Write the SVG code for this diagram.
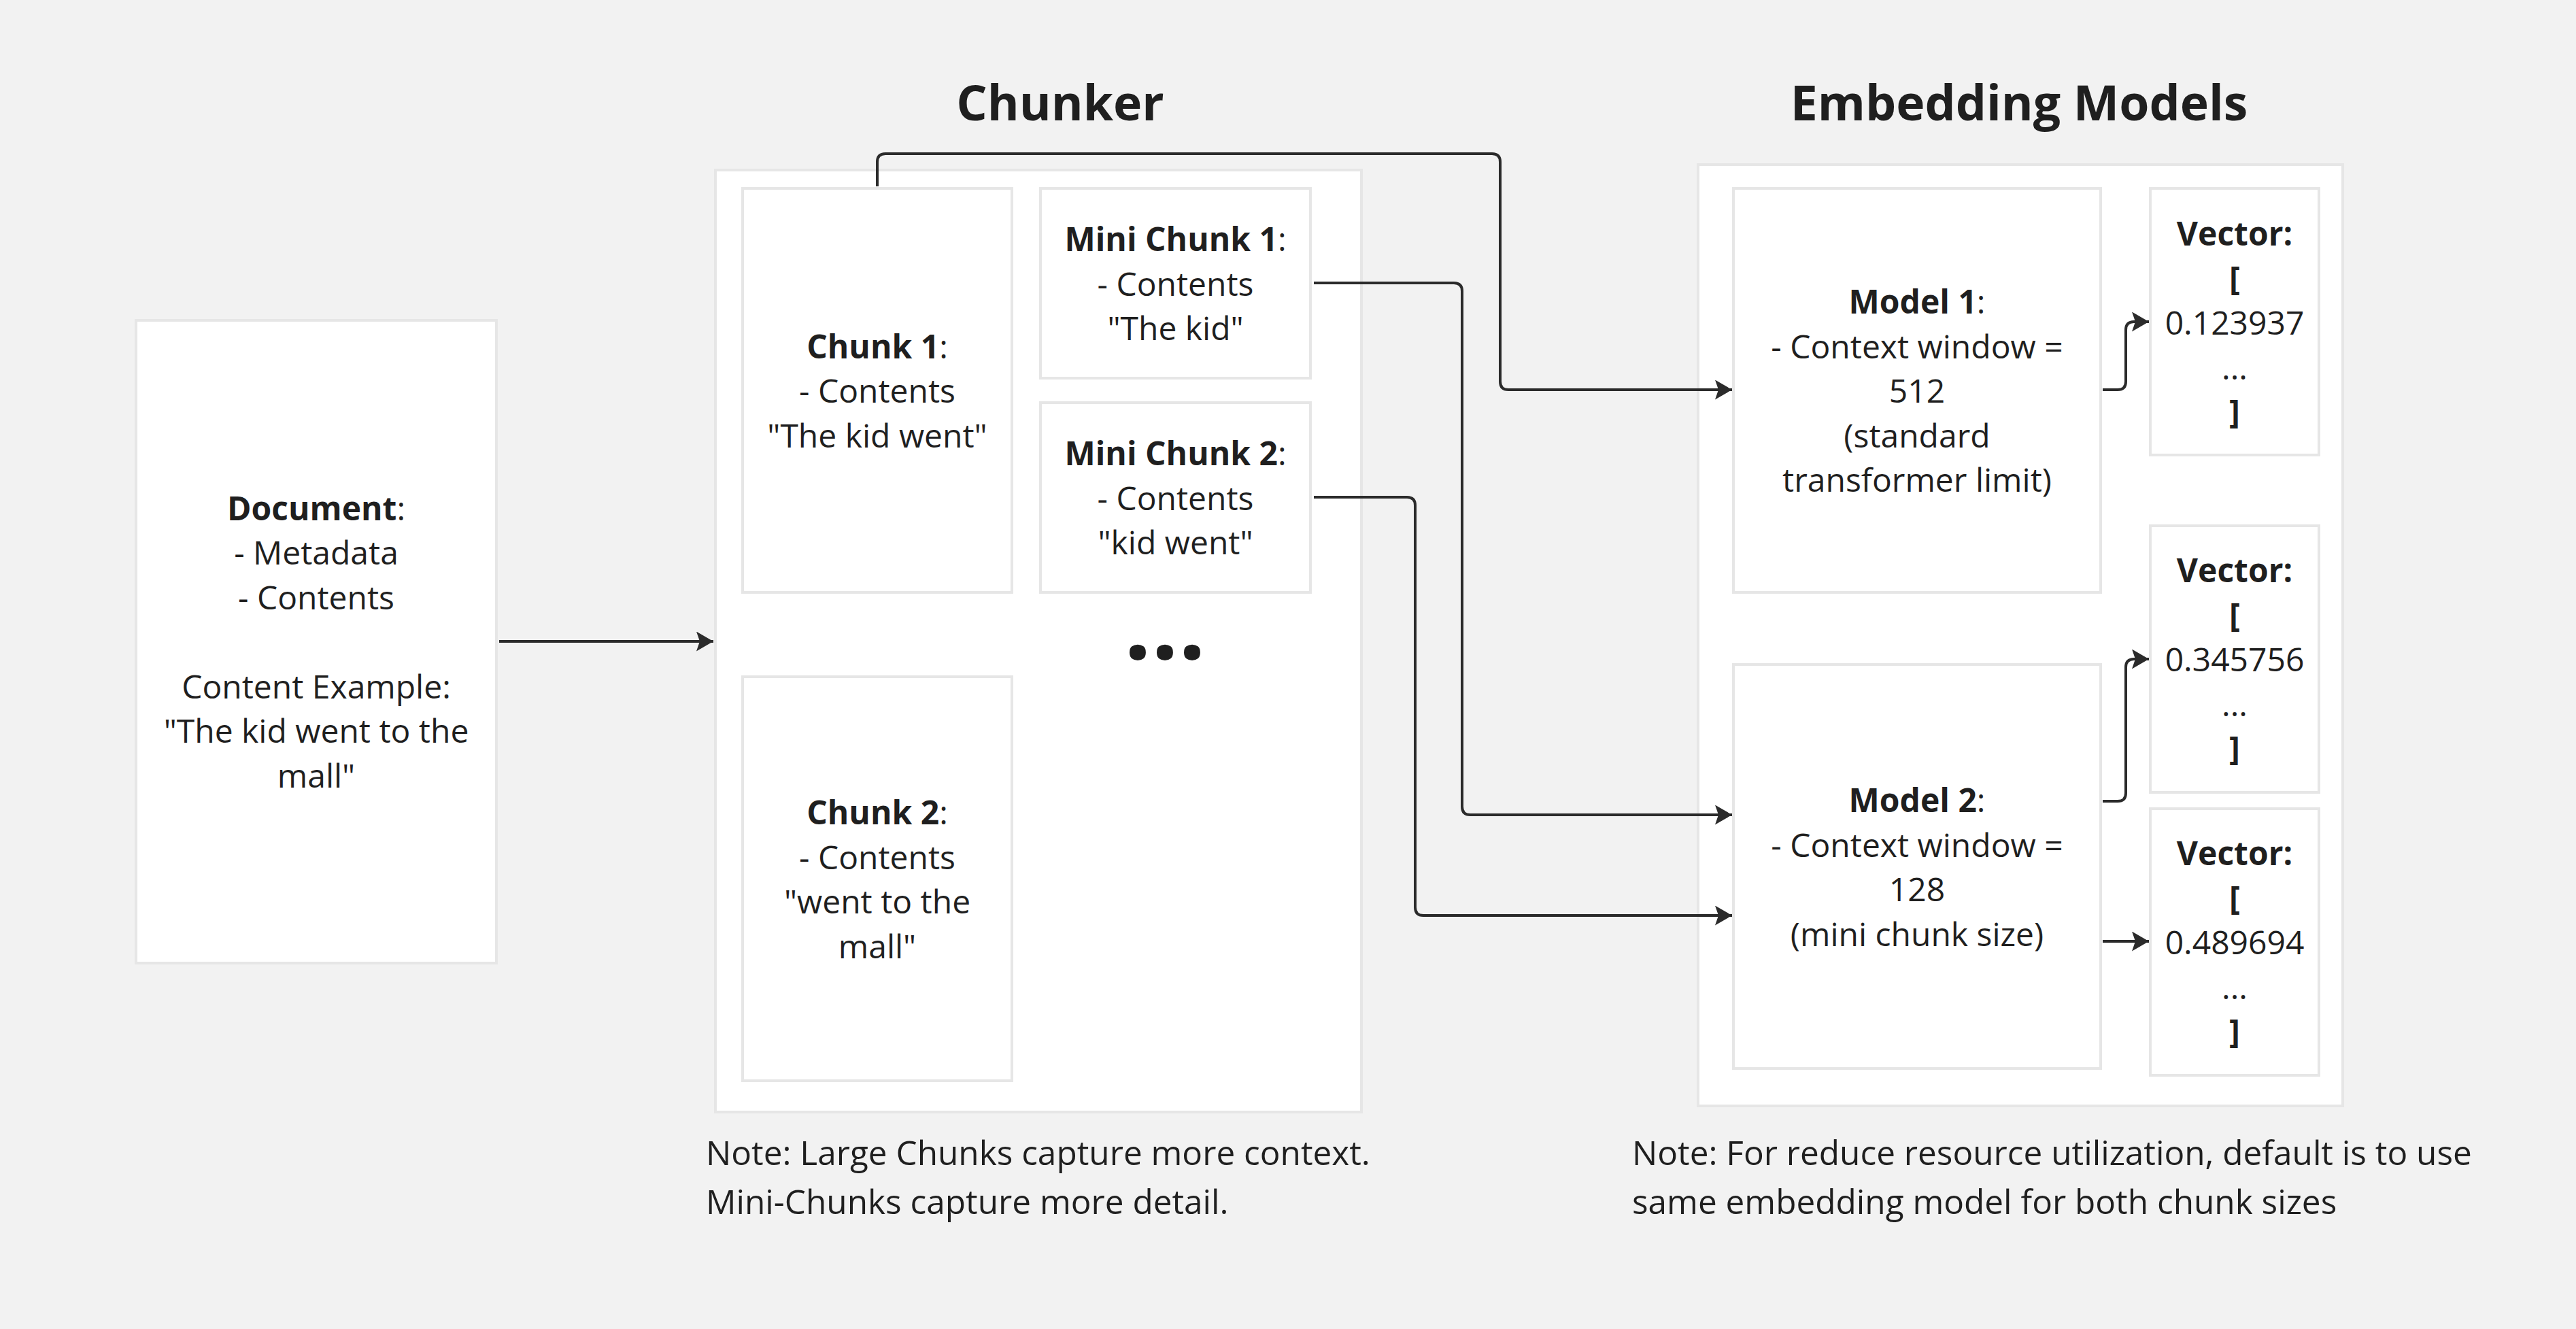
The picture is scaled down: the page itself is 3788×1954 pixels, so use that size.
<svg xmlns="http://www.w3.org/2000/svg" width="3788" height="1954" viewBox="0 0 3788 1954">
<style>
.box{fill:#ffffff;stroke:#e6e6e6;stroke-width:4}
.t{font-family:"Open Sans","Liberation Sans",sans-serif;font-size:48px;fill:#1f1f1f;text-anchor:middle}
.b{font-weight:bold}
.title{font-family:"Open Sans","Liberation Sans",sans-serif;font-size:71.5px;font-weight:bold;fill:#1f1f1f;text-anchor:middle}
.note{font-family:"Open Sans","Liberation Sans",sans-serif;font-size:49.5px;fill:#1f1f1f}
.conn{fill:none;stroke:#2b2b2b;stroke-width:4;marker-end:url(#arr)}
</style>
<defs>
<marker id="arr" markerUnits="userSpaceOnUse" markerWidth="26" markerHeight="30" refX="25" refY="14.5" orient="auto">
<path d="M0,0 L25,14.5 L0,29 L5,14.5 Z" fill="#2b2b2b"/>
</marker>
</defs>
<rect x="0" y="0" width="3788" height="1954" fill="#f2f2f2"/>

<text class="title" x="1559" y="177">Chunker</text>
<text class="title" x="2969" y="177">Embedding Models</text>

<g id="document">
<rect class="box" x="200" y="471" width="530" height="945"/>
<text class="t" x="465" y="764.5"><tspan class="b">Document</tspan>:</text>
<text class="t" x="465" y="830">- Metadata</text>
<text class="t" x="465" y="895.5">- Contents</text>
<text class="t" x="465" y="1026.5">Content Example:</text>
<text class="t" x="465" y="1092">"The kid went to the</text>
<text class="t" x="465" y="1157.5">mall"</text>
</g>

<g id="chunker">
<rect class="box" x="1052" y="250" width="950" height="1385"/>
</g>

<g id="chunk1">
<rect class="box" x="1092" y="277" width="396" height="594"/>
<text class="t" x="1290" y="526.5"><tspan class="b">Chunk 1</tspan>:</text>
<text class="t" x="1290" y="592">- Contents</text>
<text class="t" x="1290" y="657.5">"The kid went"</text>
</g>

<g id="minichunk1">
<rect class="box" x="1530" y="277" width="397" height="279"/>
<text class="t" x="1728.5" y="369"><tspan class="b">Mini Chunk 1</tspan>:</text>
<text class="t" x="1728.5" y="434.5">- Contents</text>
<text class="t" x="1728.5" y="500">"The kid"</text>
</g>

<g id="minichunk2">
<rect class="box" x="1530" y="592" width="397" height="279"/>
<text class="t" x="1728.5" y="684"><tspan class="b">Mini Chunk 2</tspan>:</text>
<text class="t" x="1728.5" y="749.5">- Contents</text>
<text class="t" x="1728.5" y="815">"kid went"</text>
</g>

<g id="ellipsis">
<text class="t b" x="1713" y="969" style="font-size:140px">...</text>
</g>

<g id="chunk2">
<rect class="box" x="1092" y="995" width="396" height="594"/>
<text class="t" x="1290" y="1212"><tspan class="b">Chunk 2</tspan>:</text>
<text class="t" x="1290" y="1277.5">- Contents</text>
<text class="t" x="1290" y="1343">"went to the</text>
<text class="t" x="1290" y="1408.5">mall"</text>
</g>

<g id="embedding">
<rect class="box" x="2497" y="242" width="948" height="1384"/>
</g>

<g id="model1">
<rect class="box" x="2549" y="277" width="540" height="594"/>
<text class="t" x="2819" y="461"><tspan class="b">Model 1</tspan>:</text>
<text class="t" x="2819" y="526.5">- Context window =</text>
<text class="t" x="2819" y="592">512</text>
<text class="t" x="2819" y="657.5">(standard</text>
<text class="t" x="2819" y="723">transformer limit)</text>
</g>

<g id="model2">
<rect class="box" x="2549" y="977" width="540" height="594"/>
<text class="t" x="2819" y="1194"><tspan class="b">Model 2</tspan>:</text>
<text class="t" x="2819" y="1259.5">- Context window =</text>
<text class="t" x="2819" y="1325">128</text>
<text class="t" x="2819" y="1390.5">(mini chunk size)</text>
</g>

<g id="vector1">
<rect class="box" x="3162" y="277" width="248" height="392"/>
<text class="t b" x="3286" y="361">Vector:</text>
<text class="t b" x="3286" y="426.5">[</text>
<text class="t" x="3286" y="492">0.123937</text>
<text class="t" x="3286" y="557.5">...</text>
<text class="t b" x="3286" y="623">]</text>
</g>

<g id="vector2">
<rect class="box" x="3162" y="773" width="248" height="392"/>
<text class="t b" x="3286" y="856">Vector:</text>
<text class="t b" x="3286" y="921.5">[</text>
<text class="t" x="3286" y="987">0.345756</text>
<text class="t" x="3286" y="1052.5">...</text>
<text class="t b" x="3286" y="1118">]</text>
</g>

<g id="vector3">
<rect class="box" x="3162" y="1189" width="248" height="392"/>
<text class="t b" x="3286" y="1272">Vector:</text>
<text class="t b" x="3286" y="1337.5">[</text>
<text class="t" x="3286" y="1403">0.489694</text>
<text class="t" x="3286" y="1468.5">...</text>
<text class="t b" x="3286" y="1534">]</text>
</g>

<g id="connectors">
<path class="conn" d="M734,943 H1049"/>
<path class="conn" d="M1290,274 V238 Q1290,226 1302,226 H2194 Q2206,226 2206,238 V561 Q2206,573 2218,573 H2547"/>
<path class="conn" d="M1932,416 H2138 Q2150,416 2150,428 V1186 Q2150,1198 2162,1198 H2547"/>
<path class="conn" d="M1932,731 H2069 Q2081,731 2081,743 V1334 Q2081,1346 2093,1346 H2547"/>
<path class="conn" d="M3092,573 H3114 Q3126,573 3126,561 V485 Q3126,473 3138,473 H3160"/>
<path class="conn" d="M3092,1178 H3114 Q3126,1178 3126,1166 V981 Q3126,969 3138,969 H3160"/>
<path class="conn" d="M3092,1384 H3160"/>
</g>

<g id="notes">
<text class="note" x="1038" y="1713">Note: Large Chunks capture more context.</text>
<text class="note" x="1038" y="1785">Mini-Chunks capture more detail.</text>
<text class="note" x="2400" y="1713">Note: For reduce resource utilization, default is to use</text>
<text class="note" x="2400" y="1785">same embedding model for both chunk sizes</text>
</g>
</svg>
